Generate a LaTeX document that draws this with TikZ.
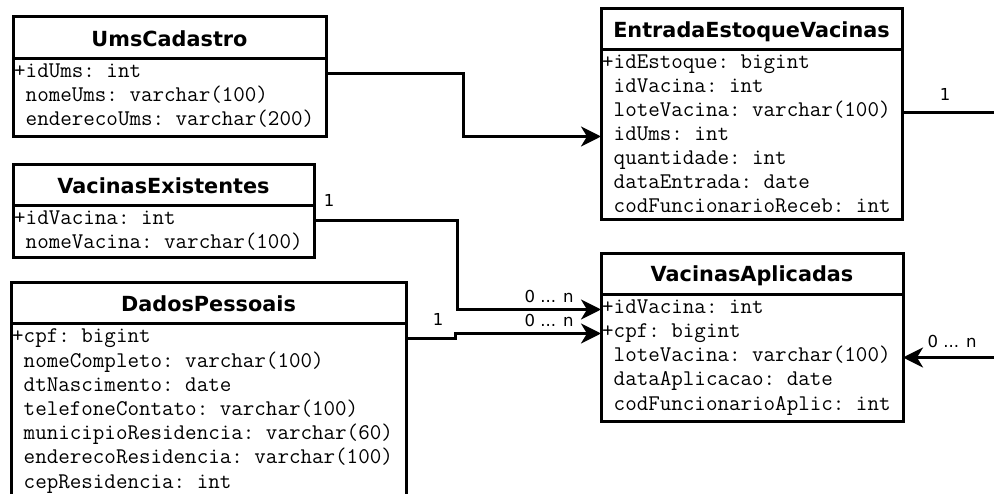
\documentclass[tikz,border=0pt]{standalone}
\usepackage{fontspec}
\newfontfamily\dejavu{DejaVu Sans}
\usetikzlibrary{arrows.meta}
\tikzset{
  tbl/.style={draw, line width=3pt, rectangle, inner sep=0pt, outer sep=0pt, anchor=north west, fill=white},
  head/.style={font={\dejavu\bfseries\fontsize{20.8}{24}\selectfont}, anchor=base, inner sep=0pt},
  row/.style={font={\ttfamily\fontsize{22.4}{24}\selectfont\frenchspacing}, anchor=base west, inner sep=0pt, text height=14pt, text depth=5pt},
  card/.style={font={\dejavu\fontsize{16.5}{19}\selectfont}, anchor=base, inner sep=0pt},
  sep/.style={line width=3pt},
  link/.style={line width=3pt},
  linkarr/.style={link, -{Stealth[length=20pt, width=20pt, inset=6pt]}}
}
\begin{document}
\begin{tikzpicture}[x=1pt, y=-1pt]
\clip (0,0) rectangle (994,494);
\fill[white] (0,0) rectangle (994,494);

% ---------- UmsCadastro ----------
\node[tbl, minimum width=313pt, minimum height=120pt] (ums) at (13,17) {};
\node[head] (umsT) at (169.5,47) {UmsCadastro};
\draw[sep] (ums.west |- 0,59) -- (ums.east |- 0,59);
\node[row] (u1) at (14,78) {+idUms: int};
\node[row] (u2) at (14,102) {\phantom{+}nomeUms: varchar(100)};
\node[row] (u3) at (14,126) {\phantom{+}enderecoUms: varchar(200)};

% ---------- VacinasExistentes ----------
\node[tbl, minimum width=301pt, minimum height=93pt] (vex) at (13,165) {};
\node[head] (vexT) at (163.5,194) {VacinasExistentes};
\draw[sep] (vex.west |- 0,206) -- (vex.east |- 0,206);
\node[row] (v1) at (14,225) {+idVacina: int};
\node[row] (v2) at (14,249) {\phantom{+}nomeVacina: varchar(100)};

% ---------- DadosPessoais ----------
\node[tbl, minimum width=395pt, minimum height=240pt] (dad) at (11,283) {};
\node[head] (dadT) at (208.5,312) {DadosPessoais};
\draw[sep] (dad.west |- 0,324) -- (dad.east |- 0,324);
\node[row] (d1) at (12,343) {+cpf: bigint};
\node[row] (d2) at (12,367.2) {\phantom{+}nomeCompleto: varchar(100)};
\node[row] (d3) at (12,391.4) {\phantom{+}dtNascimento: date};
\node[row] (d4) at (12,415.6) {\phantom{+}telefoneContato: varchar(100)};
\node[row] (d5) at (12,439.8) {\phantom{+}municipioResidencia: varchar(60)};
\node[row] (d6) at (12,464) {\phantom{+}enderecoResidencia: varchar(100)};
\node[row] (d7) at (12,488.2) {\phantom{+}cepResidencia: int};

% ---------- EntradaEstoqueVacinas ----------
\node[tbl, minimum width=301pt, minimum height=211pt] (ent) at (601,9) {};
\node[head] (entT) at (751.5,38) {EntradaEstoqueVacinas};
\draw[sep] (ent.west |- 0,50) -- (ent.east |- 0,50);
\node[row] (e1) at (602,69) {+idEstoque: bigint};
\node[row] (e2) at (602,93) {\phantom{+}idVacina: int};
\node[row] (e3) at (602,117) {\phantom{+}loteVacina: varchar(100)};
\node[row] (e4) at (602,141) {\phantom{+}idUms: int};
\node[row] (e5) at (602,165) {\phantom{+}quantidade: int};
\node[row] (e6) at (602,189) {\phantom{+}dataEntrada: date};
\node[row] (e7) at (602,213) {\phantom{+}codFuncionarioReceb: int};

% ---------- VacinasAplicadas ----------
\node[tbl, minimum width=302pt, minimum height=168pt] (apl) at (601,254) {};
\node[head] (aplT) at (752,282) {VacinasAplicadas};
\draw[sep] (apl.west |- 0,295) -- (apl.east |- 0,295);
\node[row] (a1) at (602,314) {+idVacina: int};
\node[row] (a2) at (602,338) {+cpf: bigint};
\node[row] (a3) at (602,362) {\phantom{+}loteVacina: varchar(100)};
\node[row] (a4) at (602,386) {\phantom{+}dataAplicacao: date};
\node[row] (a5) at (602,410) {\phantom{+}codFuncionarioAplic: int};

% ---------- relationships ----------
\draw[linkarr] (ums.east |- u1) -- ++(137,0) |- (ent.west |- e4);
\draw[linkarr] (vex.east |- v1) -- ++(143,0) |- (apl.west |- a1);
\draw[linkarr] (dad.east |- d1) -- ++(49,0) |- (apl.west |- a2);

% links leaving the drawing on the right
\coordinate (entOut) at (1000,0 |- e3);
\coordinate (aplIn) at (1000,0 |- a3);
\draw[link] (ent.east |- e3) -- (entOut);
\draw[linkarr] (aplIn) -- (apl.east |- a3);

% multiplicities
\node[card] (m1) at (329,207) {1};
\node[card] (m2) at (438,326) {1};
\node[card] (m3) at (549,303) {0 ... n};
\node[card] (m4) at (549,327) {0 ... n};
\node[card] (m5) at (945,101) {1};
\node[card] (m6) at (952,348) {0 ... n};
\end{tikzpicture}
\end{document}
